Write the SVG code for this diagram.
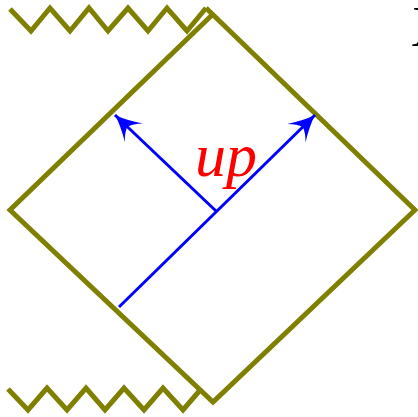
<svg xmlns="http://www.w3.org/2000/svg" width="418" height="417" viewBox="0 0 418 417">
<style>
.olive{fill:none;stroke:#808000;stroke-width:5;stroke-linejoin:miter;stroke-miterlimit:10}
.blue{fill:none;stroke:#0000ff;stroke-width:3}
.lbl{font-family:"Liberation Serif","DejaVu Serif",serif;font-style:italic;fill:#ff0000}
.ext{font-family:"Liberation Serif","DejaVu Serif",serif;fill:#000}
</style>
<defs>
<marker id="arr" markerUnits="userSpaceOnUse" viewBox="-30 -16 32 32" refX="0" refY="0" markerWidth="32" markerHeight="32" orient="auto">
<path d="M0,0 Q-12,-4 -26,-13 Q-19,-6 -17,0 Q-19,6 -26,13 Q-12,4 0,0 Z" fill="#0000ff"/>
</marker>
</defs>
<g id="diagram">
<path class="olive" d="M212,15 L10,210 L213,402 L415,210 L206,8"/>
</g>
<g id="singularity-top">
<path class="olive" d="M10,9 L31,31 L50,8 L70,31 L89,8 L108,31 L128,8 L148,31 L167,8 L187,31 L206,8"/>
</g>
<g id="singularity-bottom">
<path class="olive" d="M8,389 L28,410 L47,388 L67,410 L86,388 L105,410 L124,388 L144,410 L163,388 L183,410 L201,389"/>
</g>
<g id="connectors">
<line class="blue" x1="119" y1="307" x2="315" y2="115" marker-end="url(#arr)"/>
<line class="blue" x1="216" y1="211" x2="115" y2="115" marker-end="url(#arr)"/>
</g>
<g id="label-up">
<text class="lbl" x="195" y="176" font-size="62">up</text>
</g>
<g id="label-x">
<text class="ext" x="411" y="46" font-size="58">X</text>
</g>
</svg>
